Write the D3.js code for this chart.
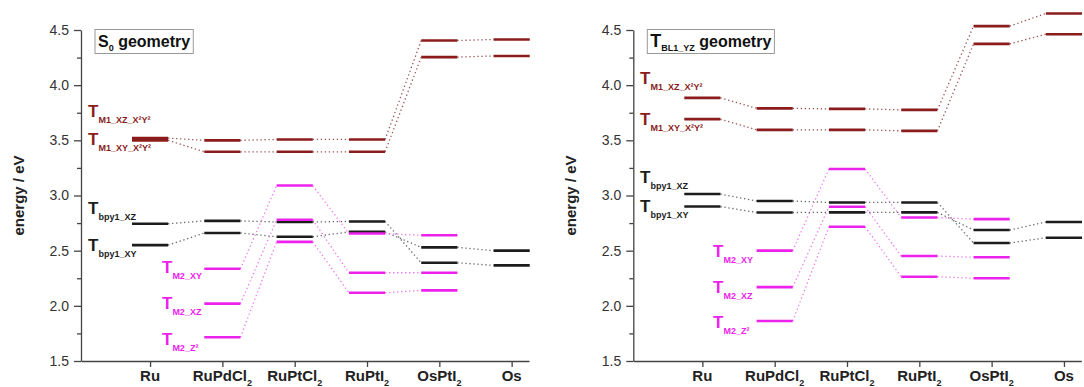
<!DOCTYPE html>
<html>
<head>
<meta charset="utf-8">
<script src="https://cdn.jsdelivr.net/npm/d3@7"></script>
<style>
  body { margin: 0; background: #fff; }
  svg { font-family: "Liberation Sans", Arial, sans-serif; }
</style>
</head>
<body>
<div id="chart"></div>
<script>
// categories (base text + subscript)
const catBase = ["Ru", "RuPdCl", "RuPtCl", "RuPtI", "OsPtI", "Os"]
const catSub = ["", "2", "2", "2", "2", ""]
const yTicks = [1.5, 2.0, 2.5, 3.0, 3.5, 4.0, 4.5]
const yMinor = [1.75, 2.25, 2.75, 3.25, 3.75, 4.25]

// S0 geometry levels (eV), one value per category, null = no level
const s0M1xz = [3.52, 3.50, 3.508, 3.508, 4.405, 4.414]
const s0M1xy = [3.50, 3.396, 3.396, 3.396, 4.254, 4.265]
const s0BpyXz = [2.744, 2.77, 2.76, 2.765, 2.39, 2.367]
const s0BpyXy = [2.55, 2.66, 2.626, 2.67, 2.53, 2.50]
const s0M2xy = [null, 2.336, 3.09, 2.655, 2.64, null]
const s0M2xz = [null, 2.02, 2.78, 2.30, 2.30, null]
const s0M2z2 = [null, 1.715, 2.58, 2.118, 2.14, null]

// T_BL1_YZ geometry levels (eV)
const tM1xz = [3.885, 3.79, 3.785, 3.776, 4.535, 4.65]
const tM1xy = [3.692, 3.595, 3.595, 3.586, 4.374, 4.462]
const tBpyXz = [3.013, 2.95, 2.937, 2.937, 2.569, 2.617]
const tBpyXy = [2.90, 2.846, 2.847, 2.847, 2.687, 2.76]
const tM2xy = [null, 2.50, 3.24, 2.80, 2.786, null]
const tM2xz = [null, 2.17, 2.898, 2.451, 2.44, null]
const tM2z2 = [null, 1.862, 2.717, 2.264, 2.25, null]

const colM1 = "#8a1c1c"
const colBpy = "#1c1c1c"
const colM2 = "#ec22ec"
const dotM1 = "#9a5050"
const dotBpy = "#666"
const dotM2 = "#ee77ee"

const panels = [
  {
    x0: 81,
    titleMain: "S", titleSub: "0",
    series: [
      {v: s0M1xz, c: colM1, d: dotM1},
      {v: s0M1xy, c: colM1, d: dotM1},
      {v: s0BpyXz, c: colBpy, d: dotBpy},
      {v: s0BpyXy, c: colBpy, d: dotBpy},
      {v: s0M2xy, c: colM2, d: dotM2},
      {v: s0M2xz, c: colM2, d: dotM2},
      {v: s0M2z2, c: colM2, d: dotM2}
    ],
    // label anchors: x in category units, y in eV (baseline of the T)
    labels: [
      {sub: "M1_XZ_X²Y²", c: colM1, x: 0.142, e: 3.71},
      {sub: "M1_XY_X²Y²", c: colM1, x: 0.142, e: 3.457},
      {sub: "bpy1_XZ", c: colBpy, x: 0.142, e: 2.83},
      {sub: "bpy1_XY", c: colBpy, x: 0.142, e: 2.496},
      {sub: "M2_XY", c: colM2, x: 1.165, e: 2.294},
      {sub: "M2_XZ", c: colM2, x: 1.165, e: 1.971},
      {sub: "M2_Z²", c: colM2, x: 1.165, e: 1.645}
    ]
  },
  {
    x0: 633.3,
    titleMain: "T", titleSub: "BL1_YZ",
    series: [
      {v: tM1xz, c: colM1, d: dotM1},
      {v: tM1xy, c: colM1, d: dotM1},
      {v: tBpyXz, c: colBpy, d: dotBpy},
      {v: tBpyXy, c: colBpy, d: dotBpy},
      {v: tM2xy, c: colM2, d: dotM2},
      {v: tM2xz, c: colM2, d: dotM2},
      {v: tM2z2, c: colM2, d: dotM2}
    ],
    labels: [
      {sub: "M1_XZ_X²Y²", c: colM1, x: 0.138, e: 4.009},
      {sub: "M1_XY_X²Y²", c: colM1, x: 0.138, e: 3.638},
      {sub: "bpy1_XZ", c: colBpy, x: 0.138, e: 3.115},
      {sub: "bpy1_XY", c: colBpy, x: 0.138, e: 2.852},
      {sub: "M2_XY", c: colM2, x: 1.147, e: 2.44},
      {sub: "M2_XZ", c: colM2, x: 1.147, e: 2.113},
      {sub: "M2_Z²", c: colM2, x: 1.147, e: 1.796}
    ]
  }
]

const width = 1084
const height = 387
const hw = 0.25 // half width of a level, category units

const svg = d3.select("#chart")
  .append("svg")
    .attr("width", width)
    .attr("height", height)

const yScale = d3.scaleLinear().domain([1.5, 4.5]).range([361, 30])

panels.forEach(p => {
  const xScale = d3.scaleLinear().domain([0.045, 6.24]).range([0, 448])
  const g = svg.append("g").attr("transform", "translate(" + p.x0 + ",0)")

  // dotted connectors
  p.series.forEach(s => {
    for (let i = 0; i < s.v.length - 1; i++) {
      if (s.v[i] == null || s.v[i + 1] == null) continue
      g.append("line")
        .attr("x1", xScale(i + 1 + hw))
        .attr("y1", yScale(s.v[i]))
        .attr("x2", xScale(i + 2 - hw))
        .attr("y2", yScale(s.v[i + 1]))
        .attr("stroke", s.d)
        .attr("stroke-width", 1.3)
        .attr("stroke-dasharray", "1.3,2.7")
    }
  })

  // levels
  p.series.forEach(s => {
    g.selectAll(null)
      .data(s.v.map((v, i) => ({v, i})).filter(d => d.v != null))
      .enter()
      .append("line")
        .attr("x1", d => xScale(d.i + 1 - hw))
        .attr("x2", d => xScale(d.i + 1 + hw))
        .attr("y1", d => yScale(d.v))
        .attr("y2", d => yScale(d.v))
        .attr("stroke", s.c)
        .attr("stroke-width", 2.6)
  })

  // y axis
  const yAxis = g.append("g")
    .call(d3.axisLeft(yScale).tickValues(yTicks).tickFormat(d3.format(".1f")).tickSize(7).tickSizeOuter(0))
  yAxis.selectAll("text").attr("font-size", 14).attr("fill", "#333").attr("x", -12)
  g.append("g")
    .call(d3.axisLeft(yScale).tickValues(yMinor).tickFormat("").tickSize(4).tickSizeOuter(0))
    .select(".domain").remove()

  // x axis
  const xAxis = g.append("g")
    .attr("transform", "translate(0,361)")
    .call(d3.axisBottom(xScale).tickValues([1, 2, 3, 4, 5, 6]).tickFormat("").tickSize(6).tickSizeOuter(0))
  g.selectAll(".domain, .tick line").attr("stroke", "#444").attr("stroke-width", 1.3)

  const catText = g.selectAll(null)
    .data(catBase)
    .enter()
    .append("text")
      .attr("x", (d, i) => xScale(i + 1))
      .attr("y", 381)
      .attr("text-anchor", "middle")
      .attr("font-weight", "bold")
      .attr("font-size", 15)
      .attr("fill", "#222")
  catText.append("tspan").text(d => d)
  catText.append("tspan")
    .text((d, i) => catSub[i])
    .attr("font-size", 9)
    .attr("dy", 5)

  // y label
  g.append("text")
    .attr("transform", "translate(-57," + yScale(3.0) + ") rotate(-90)")
    .attr("text-anchor", "middle")
    .attr("font-weight", "bold")
    .attr("font-size", 15)
    .attr("fill", "#222")
    .text("energy / eV")

  // title box
  const tb = g.append("g")
  const tRect = tb.append("rect")
    .attr("y", 29.5)
    .attr("height", 24)
    .attr("fill", "#fff")
    .attr("stroke", "#999")
    .attr("stroke-width", 1)
  const tText = tb.append("text")
    .attr("x", xScale(0.045) + 17)
    .attr("y", 47)
    .attr("font-weight", "bold")
    .attr("font-size", 16)
    .attr("fill", "#111")
  tText.append("tspan").text(p.titleMain).attr("font-size", p.titleMain === "T" ? 18 : 16)
  tText.append("tspan").text(p.titleSub).attr("font-size", 9).attr("dy", 4)
  tText.append("tspan").text(" geometry").attr("dy", -4)
  const bb = tText.node().getBBox()
  tRect.attr("x", bb.x - 3).attr("width", bb.width + 6)

  // state labels
  p.labels.forEach(l => {
    const t = g.append("text")
      .attr("x", xScale(l.x))
      .attr("y", yScale(l.e))
      .attr("font-weight", "bold")
      .attr("fill", l.c)
    t.append("tspan").text("T").attr("font-size", 17)
    t.append("tspan").text(l.sub).attr("font-size", 9).attr("dy", 6)
  })
})
</script>
</body>
</html>
